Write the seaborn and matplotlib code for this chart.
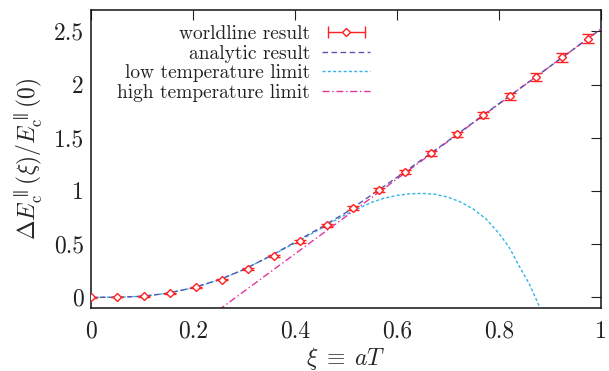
import numpy as np
import pandas as pd
import matplotlib
matplotlib.use("Agg")
import matplotlib.pyplot as plt
import seaborn as sns
from matplotlib.lines import Line2D
from matplotlib.legend_handler import HandlerLine2D, HandlerTuple

# ---- data ----
xi_pts = [0.0, 0.051, 0.103, 0.154, 0.205, 0.256, 0.308, 0.359, 0.410, 0.462,
          0.513, 0.564, 0.615, 0.667, 0.718, 0.769, 0.821, 0.872, 0.923, 0.974]
E_pts = [0.0, 0.002, 0.011, 0.040, 0.094, 0.165, 0.265, 0.390, 0.525, 0.678,
         0.838, 1.007, 1.178, 1.354, 1.532, 1.713, 1.891, 2.073, 2.254, 2.432]
E_err = [0.002, 0.002, 0.003, 0.004, 0.005, 0.006, 0.008, 0.010, 0.012, 0.014,
         0.016, 0.018, 0.020, 0.022, 0.025, 0.028, 0.032, 0.036, 0.040, 0.045]

xi_an = [0.0, 0.05, 0.1, 0.15, 0.2, 0.25, 0.3, 0.35, 0.4, 0.45, 0.5, 0.55,
         0.6, 0.65, 0.7, 0.75, 0.8, 0.85, 0.9, 0.95, 1.0]
E_an = [0.0, 0.001, 0.010, 0.038, 0.090, 0.163, 0.262, 0.385, 0.518, 0.655,
        0.797, 0.962, 1.128, 1.298, 1.470, 1.645, 1.820, 1.995, 2.170, 2.345, 2.522]

xi_low = [0.0, 0.05, 0.1, 0.15, 0.2, 0.25, 0.3, 0.35, 0.4, 0.45, 0.5, 0.55,
          0.575, 0.6, 0.625, 0.65, 0.675, 0.7, 0.725, 0.75, 0.775, 0.8,
          0.82, 0.84, 0.86, 0.88]
E_low = [0.0, 0.001, 0.010, 0.038, 0.090, 0.163, 0.262, 0.383, 0.510, 0.645,
         0.780, 0.893, 0.932, 0.958, 0.973, 0.977, 0.968, 0.942, 0.895, 0.828,
         0.735, 0.600, 0.470, 0.290, 0.120, -0.094]

xi_high = [0.25, 1.0]
E_high = [-0.12, 2.522]

labels = ["worldline result", "analytic result",
          "low temperature limit", "high temperature limit"]
xticks = [0, 0.2, 0.4, 0.6, 0.8, 1]
xticklabels = ["0", "0.2", "0.4", "0.6", "0.8", "1"]
yticks = [0, 0.5, 1, 1.5, 2, 2.5]
yticklabels = ["0", "0.5", "1", "1.5", "2", "2.5"]

# ---- style ----
sns.set_style("white")
plt.rcParams["font.family"] = ["cmr10", "DejaVu Serif"]
plt.rcParams["mathtext.fontset"] = "cm"
plt.rcParams["axes.formatter.use_mathtext"] = True
plt.rcParams["axes.unicode_minus"] = False

c_pts = "#ff2020"
c_an = "#5a55b0"
c_low = "#33b5e5"
c_high = "#e0359d"

fig = plt.figure(figsize=(6.09, 3.71), dpi=100)
ax = fig.add_axes([91 / 609, 1 - 308 / 371, 510 / 609, 298 / 371])

df_an = pd.DataFrame({"xi": xi_an, "E": E_an})
df_low = pd.DataFrame({"xi": xi_low, "E": E_low})
df_high = pd.DataFrame({"xi": xi_high, "E": E_high})

sns.lineplot(data=df_an, x="xi", y="E", ax=ax, color=c_an, lw=1.0, zorder=3)
ax.lines[-1].set_dashes([4, 2.5])
sns.lineplot(data=df_low, x="xi", y="E", ax=ax, color=c_low, lw=1.0, zorder=2)
ax.lines[-1].set_dashes([2.2, 1.6])
sns.lineplot(data=df_high, x="xi", y="E", ax=ax, color=c_high, lw=1.0, zorder=2)
ax.lines[-1].set_dashes([5, 2, 1, 2])

ax.errorbar(xi_pts, E_pts, yerr=E_err, fmt="D", ms=4.0, mfc="white",
            mec=c_pts, mew=1.0, color=c_pts, ecolor=c_pts, elinewidth=1.0,
            capsize=4.2, capthick=1.0, zorder=4)

ax.set_xlim(0, 1)
ax.set_ylim(-0.1, 2.7)
ax.set_xticks(xticks)
ax.set_xticklabels(xticklabels)
ax.set_yticks(yticks)
ax.set_yticklabels(yticklabels)
ax.tick_params(direction="in", length=7, width=0.8, top=True, right=True,
               labelsize=17, colors="#222222")
ax.tick_params(axis="x", pad=9)
ax.tick_params(axis="y", pad=5)
for s in ax.spines.values():
    s.set_linewidth(1.1)
    s.set_color("#111111")

ax.set_xlabel(r"$\xi\;\equiv\;aT$", fontsize=17, labelpad=2)
ax.set_ylabel(r"$\Delta E_{\rm c}^{\parallel}(\xi)/E_{\rm c}^{\parallel}(0)$",
              fontsize=17, labelpad=6)

# legend handles (gnuplot-style horizontal error bar key)
h_cap = Line2D([], [], color=c_pts, lw=1.0, marker="|", ms=9, mew=1.0)
h_dia = Line2D([], [], color=c_pts, ls="none", marker="D", ms=4.0,
               mfc="white", mec=c_pts, mew=1.0)
h_pts = (h_cap, h_dia)
h_an = Line2D([], [], color=c_an, lw=1.0, dashes=[4, 2.5])
h_low = Line2D([], [], color=c_low, lw=1.0, dashes=[2.2, 1.6])
h_high = Line2D([], [], color=c_high, lw=1.0, dashes=[5, 2, 1, 2])
leg = ax.legend([h_pts, h_an, h_low, h_high], labels, loc="upper right",
                bbox_to_anchor=(0.563, 0.975), frameon=False, markerfirst=False,
                fontsize=14, handlelength=2.5, labelspacing=0.08,
                handletextpad=0.6, borderaxespad=0.0,
                handler_map={h_cap: HandlerLine2D(numpoints=2),
                             h_dia: HandlerLine2D(numpoints=1),
                             h_pts: HandlerTuple(ndivide=1)})
for t in leg.get_texts():
    t.set_color("#222222")

fig.savefig("out.png", dpi=100)
